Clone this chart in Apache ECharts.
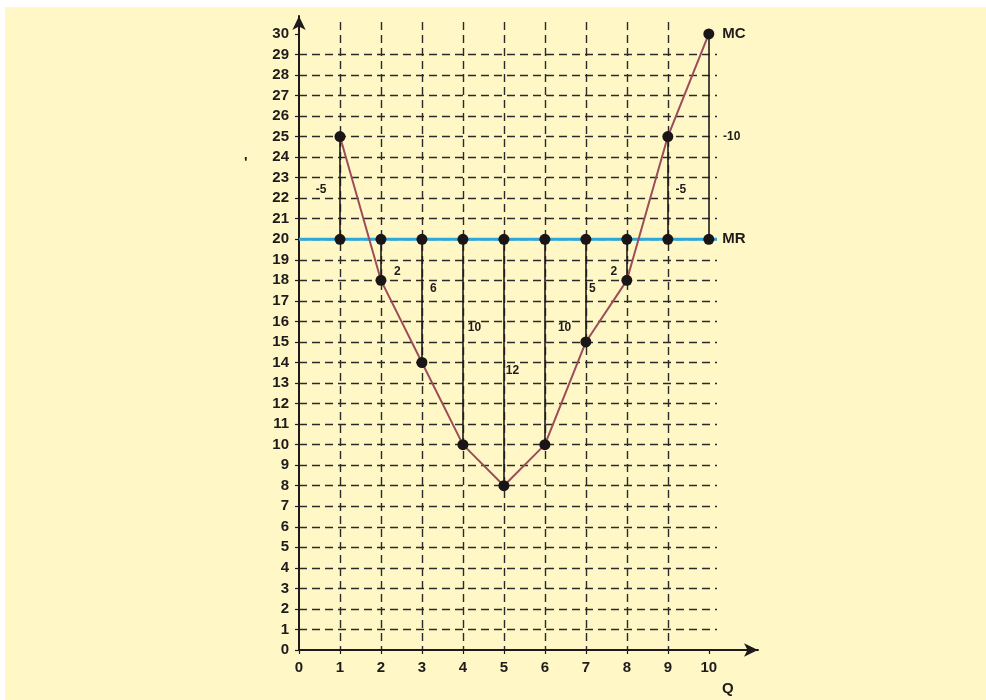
<!DOCTYPE html>
<html>
<head>
<meta charset="utf-8">
<script src="https://cdn.jsdelivr.net/npm/echarts@6/dist/echarts.min.js"></script>
<style>
  html, body { margin: 0; padding: 0; background: #ffffff; }
  #main { position: absolute; left: 5px; top: 7px; width: 981px; height: 693px; }
</style>
</head>
<body>
<div id="main"></div>
<script>
// data
var qValues = [1, 2, 3, 4, 5, 6, 7, 8, 9, 10];
var mcValues = [25, 18, 14, 10, 8, 10, 15, 18, 25, 30];
var mrValue = 20;
var mrExtent = [0, 10.2];
var xTicks = [0, 1, 2, 3, 4, 5, 6, 7, 8, 9, 10];
var yTicks = [];
for (var i = 0; i <= 30; i++) yTicks.push(i);
var gapLabels = ['-5', '2', '6', '10', '12', '10', '5', '2', '-5', '-10'];
var gapLabelQ = [0.54, 2.4, 3.28, 4.28, 5.21, 6.48, 7.16, 7.68, 9.32, 10.56];
var gapLabelP = [22.4, 18.4, 17.6, 15.7, 13.6, 15.7, 17.6, 18.4, 22.4, 25.0];

var ink = '#1f1b1c';
var font = '"Liberation Sans", Arial, sans-serif';

var myChart = echarts.init(document.getElementById('main'));

var mcData = qValues.map(function (q, i) { return [q, mcValues[i]]; });
var mrDots = qValues.map(function (q) { return [q, mrValue]; });
var gapLines = qValues.map(function (q, i) {
  return [{ coord: [q, mrValue] }, { coord: [q, mcValues[i]] }];
});
var gapText = gapLabels.map(function (t, i) {
  return { name: t, value: [gapLabelQ[i], gapLabelP[i]] };
});

var dashStyle = { color: '#2a2a2a', width: 1.4, type: [8, 5] };

var option = {
  backgroundColor: '#fff8c6',
  animation: false,
  textStyle: { fontFamily: font },
  grid: [
    { left: 294, top: 15, right: 269, bottom: 50, outerBoundsMode: 'none' },
    { left: 294, top: 9, right: 228, bottom: 50, outerBoundsMode: 'none' }
  ],
  xAxis: [
    {
      type: 'value', gridIndex: 0, min: 0, max: 10.2, interval: 1,
      name: 'Q', nameLocation: 'end', nameGap: 5,
      nameTextStyle: { color: ink, fontWeight: 'bold', fontSize: 15, verticalAlign: 'top', padding: [31, 0, 0, 0] },
      axisLine: { show: false },
      axisTick: { show: true, length: 4, customValues: xTicks, lineStyle: { color: ink, width: 1.2 } },
      axisLabel: { customValues: xTicks, margin: 10, color: ink, fontWeight: 'bold', fontSize: 15 },
      splitLine: { show: true, showMinLine: false, showMaxLine: false, lineStyle: dashStyle }
    },
    {
      type: 'value', gridIndex: 1, min: 0, max: 11.2,
      axisLine: { show: true, symbol: ['none', 'arrow'], symbolSize: [10, 14], lineStyle: { color: ink, width: 2 } },
      axisTick: { show: false }, axisLabel: { show: false }, splitLine: { show: false }
    }
  ],
  yAxis: [
    {
      type: 'value', gridIndex: 0, min: 0, max: 30.58, interval: 1,
      axisLine: { show: false },
      axisTick: { show: true, length: 4, customValues: yTicks, lineStyle: { color: ink, width: 1.2 } },
      axisLabel: { customValues: yTicks, margin: 10, color: ink, fontWeight: 'bold', fontSize: 15 },
      splitLine: { show: true, showMinLine: false, showMaxLine: false, lineStyle: dashStyle }
    },
    {
      type: 'value', gridIndex: 1, min: 0, max: 30.9,
      axisLine: { show: true, symbol: ['none', 'arrow'], symbolSize: [10, 14], lineStyle: { color: ink, width: 2 } },
      axisTick: { show: false }, axisLabel: { show: false }, splitLine: { show: false }
    }
  ],
  graphic: [
    { type: 'text', left: 239, top: 148, style: { text: "'", fill: ink, font: 'bold 15px ' + font } }
  ],
  series: [
    {
      name: 'MR', type: 'line', xAxisIndex: 0, yAxisIndex: 0,
      data: mrExtent.map(function (q) { return [q, mrValue]; }),
      symbol: 'none', lineStyle: { color: '#2aa9df', width: 3 }, z: 3,
      markLine: {
        silent: true, symbol: 'none', label: { show: false },
        lineStyle: { color: ink, width: 1.6, type: 'solid', opacity: 1 },
        data: gapLines, z: 2
      }
    },
    {
      name: 'MC', type: 'line', xAxisIndex: 0, yAxisIndex: 0,
      data: mcData, symbol: 'none', clip: false,
      lineStyle: { color: '#9c4d5a', width: 2 }, z: 4
    },
    {
      name: 'dots', type: 'scatter', xAxisIndex: 0, yAxisIndex: 0,
      data: mcData.concat(mrDots), symbolSize: 11, clip: false,
      itemStyle: { color: '#1a1617', opacity: 1 }, z: 5,
      label: {
        show: true, position: 'right', distance: 8, color: ink, fontWeight: 'bold', fontSize: 15,
        formatter: function (p) {
          if (p.dataIndex === qValues.length - 1) return 'MC';
          if (p.dataIndex === 2 * qValues.length - 1) return 'MR';
          return '';
        }
      }
    },
    {
      name: 'gaps', type: 'scatter', xAxisIndex: 0, yAxisIndex: 0,
      data: gapText, symbolSize: 0, clip: false, z: 6,
      itemStyle: { opacity: 1 },
      label: { show: true, position: 'inside', formatter: '{b}', color: ink, fontWeight: 'bold', fontSize: 12 }
    }
  ]
};

option && myChart.setOption(option);
</script>
</body>
</html>
